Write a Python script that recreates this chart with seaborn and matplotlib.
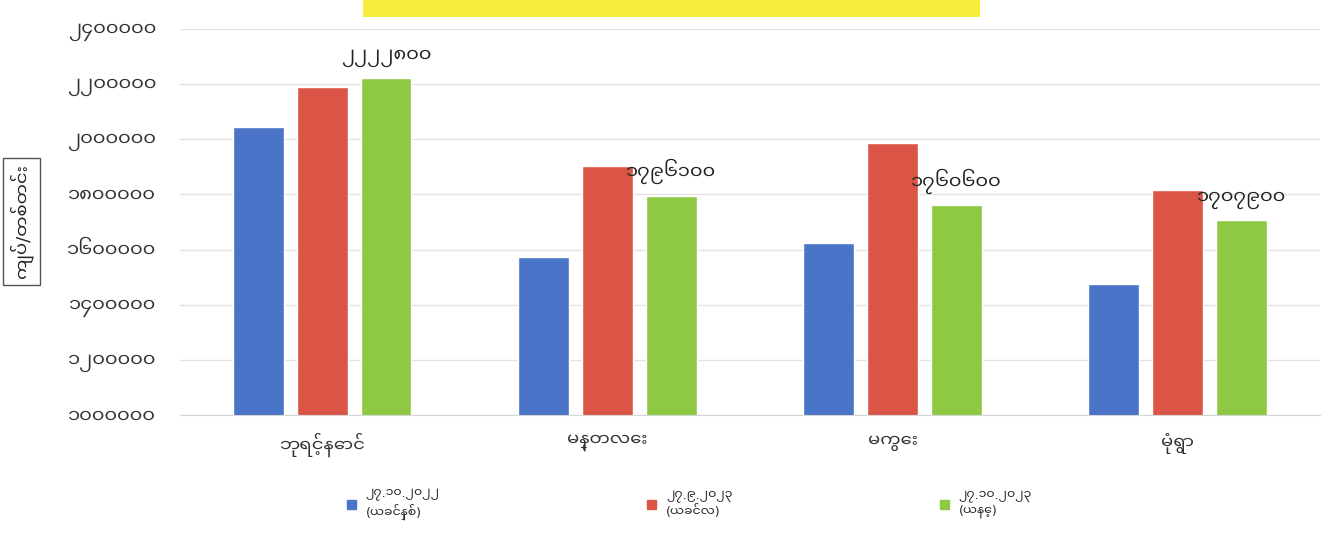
import pandas as pd
import matplotlib
matplotlib.use("Agg")
import matplotlib.pyplot as plt
import seaborn as sns
from matplotlib import font_manager
from matplotlib.patches import Rectangle

# data
markets = ["ဘုရင့်နောင်", "မန္တလေး", "မကွေး", "မုံရွာ"]
dates = ["၂၇.၁၀.၂၀၂၂\n(ယခင်နှစ်)", "၂၇.၉.၂၀၂၃\n(ယခင်လ)", "၂၇.၁၀.၂၀၂၃\n(ယနေ့)"]
last_year = [2044000, 1574000, 1625000, 1476000]
last_month = [2189000, 1902000, 1985000, 1818000]
today = [2222800, 1796100, 1760600, 1707900]
today_labels = ["၂၂၂၂၈၀၀", "၁၇၉၆၁၀၀", "၁၇၆၀၆၀၀", "၁၇၀၇၉၀၀"]
y_ticks = [1000000, 1200000, 1400000, 1600000, 1800000, 2000000, 2200000, 2400000]
y_tick_labels = ["၁၀၀၀၀၀၀", "၁၂၀၀၀၀၀", "၁၄၀၀၀၀၀", "၁၆၀၀၀၀၀",
                 "၁၈၀၀၀၀၀", "၂၀၀၀၀၀၀", "၂၂၀၀၀၀၀", "၂၄၀၀၀၀၀"]
y_title = "ကျပ်/တစ်တင်း"

colors = ["#4a74c8", "#db5547", "#8fc843"]

df = pd.DataFrame({
    "market": markets * 3,
    "date": [dates[0]] * 4 + [dates[1]] * 4 + [dates[2]] * 4,
    "price": last_year + last_month + today,
})

try:
    font_manager.fontManager.addfont(
        "/usr/share/fonts/truetype/google-fonts/NotoSansMyanmarUI-Regular.ttf")
except Exception:
    pass

sns.set_style("white")
plt.rcParams["font.family"] = ["Noto Sans Myanmar UI", "DejaVu Sans"]

fig = plt.figure(figsize=(13.32, 5.37), dpi=100)
ax = fig.add_axes([0.135, 0.227, 0.856, 0.719])

sns.barplot(data=df, x="market", y="price", hue="date", palette=colors,
            saturation=1, width=0.67, gap=0.2, ax=ax, legend=False)

ax.set_ylim(1000000, 2400000)
ax.set_xlim(-0.5, 3.5)
ax.set_yticks(y_ticks)
ax.set_yticklabels(y_tick_labels, fontsize=14, color="#333333")
ax.tick_params(axis="x", labelsize=13, colors="#333333", length=0, pad=13)
ax.tick_params(axis="y", length=0, pad=17)
ax.yaxis.grid(True, color="#e2e2e2", linewidth=1)
ax.set_axisbelow(True)
for s in ["top", "right", "left"]:
    ax.spines[s].set_visible(False)
ax.spines["bottom"].set_color("#d6d6d6")
ax.set_xlabel("")
ax.set_ylabel("")

ax.bar_label(ax.containers[2], labels=today_labels, padding=8, fontsize=14,
             color="#222222")

# y axis title in a box
fig.text(0.016, 0.588, y_title, rotation=90, ha="center", va="center",
         fontsize=13, color="#222222",
         bbox=dict(boxstyle="square,pad=0.35", facecolor="white",
                   edgecolor="#555555", linewidth=1))

# legend
handles = [Rectangle((0, 0), 1, 1, color=c) for c in colors]
fig.legend(handles, dates, loc="upper left", bbox_to_anchor=(0.252, 0.112),
           ncol=3, frameon=False, fontsize=9, handlelength=0.7,
           handleheight=0.7, columnspacing=16.6, handletextpad=0.8,
           labelspacing=0.2)

# yellow title band (text is cut off in the source)
fig.patches.append(Rectangle((363 / 1332, 1 - 17 / 537), 617 / 1332, 17 / 537,
                             transform=fig.transFigure, facecolor="#f7ec3a",
                             edgecolor="none"))

fig.savefig("out.png", dpi=100)
